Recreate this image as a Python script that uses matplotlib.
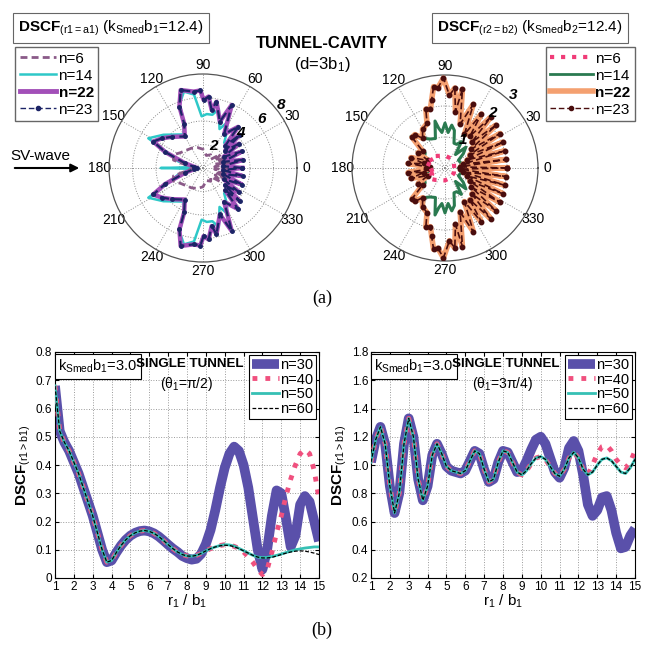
import numpy as np
import matplotlib
matplotlib.use("Agg")
import matplotlib.pyplot as plt
from matplotlib.lines import Line2D

plt.rcParams['font.family'] = ['Liberation Sans', 'DejaVu Sans']
plt.rcParams['mathtext.fontset'] = 'custom'
plt.rcParams['mathtext.rm'] = 'Liberation Sans'
plt.rcParams['mathtext.bf'] = 'Liberation Sans:bold'
plt.rcParams['mathtext.it'] = 'Liberation Sans:italic'
plt.rcParams['mathtext.default'] = 'regular'

# ---------------- polar (a) left: tunnel ----------------
L_TH_22 = [0, 5.5, 11.5, 17, 23, 28.5, 34, 38, 42, 45, 49.5, 58, 65.5, 70, 78.5, 81.5, 85.5, 89.5, 92, 97,
           106, 111, 113, 120, 135, 144, 152, 157, 165, 172, 180,
           188, 195, 203, 208, 216, 225, 240, 247, 249, 254, 263, 268, 270.5, 274.5, 278.5, 281.5, 290, 294.5, 302,
           310.5, 315, 318, 322, 326, 331.5, 337, 343, 348.5, 354.5, 360]
L_N22 = [3.35, 1.7, 3.45, 1.8, 3.6, 2.0, 3.7, 2.4, 4.2, 2.7, 4.6, 3.4, 5.9, 4.2, 5.75, 5.0, 6.1, 5.8, 6.6, 6.55,
         6.9, 5.6, 4.1, 3.1, 3.75, 4.3, 4.8, 3.5, 1.6, 0.8, 0.5,
         0.8, 1.6, 3.5, 4.8, 4.3, 3.75, 3.1, 4.1, 5.6, 6.9, 6.55, 6.6, 5.8, 6.1, 5.0, 5.75, 4.2, 5.9, 3.4,
         4.6, 2.7, 4.2, 2.4, 3.7, 2.0, 3.6, 1.8, 3.45, 1.7, 3.35]
L_N23 = [3.35, 1.7, 3.45, 1.8, 3.6, 2.0, 3.7, 2.4, 4.2, 2.7, 4.6, 3.4, 5.9, 4.2, 5.75, 5.0, 6.1, 5.8, 6.6, 6.55,
         6.9, 5.6, 4.1, 3.1, 3.75, 4.3, 4.8, 3.5, 1.6, 0.8, 0.5,
         0.8, 1.6, 3.5, 4.8, 4.3, 3.75, 3.1, 4.1, 5.6, 6.9, 6.55, 6.6, 5.8, 6.1, 5.0, 5.75, 4.2, 5.9, 3.4,
         4.6, 2.7, 4.2, 2.4, 3.7, 2.0, 3.6, 1.8, 3.45, 1.7, 3.35]
L_TH_14 = [0, 5.5, 11.5, 17, 23, 28.5, 34, 38, 44, 50, 56, 62, 67, 75, 80, 86, 91.5, 97, 104, 110,
           113, 120, 140, 151.5, 156, 165, 176, 180,
           184, 195, 204, 208.5, 220, 240, 247, 250, 256, 263, 268.5, 274, 280, 285, 293, 298, 304, 310, 316, 322,
           326, 331.5, 337, 343, 348.5, 354.5, 360]
L_N14 = [3.3, 1.7, 3.4, 1.8, 3.5, 2.0, 3.6, 2.3, 3.4, 2.8, 3.6, 4.4, 3.6, 5.2, 4.6, 4.6, 4.4, 6.3, 6.7, 5.8,
         4.1, 3.3, 4.4, 5.3, 3.4, 2.2, 1.0, 3.6,
         1.0, 2.2, 3.4, 5.3, 4.4, 3.3, 4.1, 5.8, 6.7, 6.3, 4.4, 4.6, 4.6, 5.2, 3.6, 4.4, 3.6, 2.8, 3.4, 2.3,
         3.6, 2.0, 3.5, 1.8, 3.4, 1.7, 3.3]
L_TH_6 = [0, 6, 12, 18, 24, 30, 38, 48, 60, 75, 90, 105, 120, 135, 145, 156, 165, 172, 180,
          188, 195, 204, 215, 225, 240, 255, 270, 285, 300, 312, 322, 330, 336, 342, 348, 354, 360]
L_N6 = [2.1, 1.0, 2.2, 1.1, 2.2, 1.2, 1.9, 1.0, 1.3, 1.1, 1.6, 1.8, 1.95, 2.1, 2.3, 2.75, 2.6, 1.2, 0.4,
        1.2, 2.6, 2.75, 2.3, 2.1, 1.95, 1.8, 1.6, 1.1, 1.3, 1.0, 1.9, 1.2, 2.2, 1.1, 2.2, 1.0, 2.1]

# ---------------- polar (a) right: cavity ----------------
R_TH_22 = [0, 4, 8, 12, 16, 20, 24, 28, 32, 36, 40, 44, 48, 52, 56, 60, 66, 71, 77.5, 79.5,
           83, 86.5, 91, 95, 98, 101, 104, 108, 112, 120, 127, 132, 137, 143, 150, 156, 163, 168, 173, 177, 180,
           183, 187, 192, 197, 204, 210, 217, 223, 228, 233, 240, 248, 252, 256, 259, 262, 265, 269, 273.5, 277,
           280.5, 282.5, 289, 294, 300, 304, 308, 312, 316, 320, 324, 328, 332, 336, 340, 344, 348, 352, 356, 360]
R_N22 = [2.0, 0.5, 2.0, 0.6, 2.0, 0.75, 2.05, 0.9, 2.1, 1.05, 2.15, 1.2, 2.2, 1.3, 2.1, 1.25, 2.25, 1.5, 2.6, 1.85,
         2.6, 2.35, 2.9, 2.6, 2.65, 2.25, 1.95, 2.0, 1.55, 1.45, 1.2, 1.45, 1.45, 0.9, 1.0, 0.6, 1.15, 0.7, 1.2, 0.5, 0.6,
         0.5, 1.2, 0.7, 1.15, 0.6, 1.0, 0.9, 1.45, 1.45, 1.2, 1.45, 1.55, 2.0, 1.95, 2.25, 2.65, 2.6, 2.9, 2.35, 2.6,
         1.85, 2.6, 1.5, 2.25, 1.25, 2.1, 1.3, 2.2, 1.2, 2.15, 1.05, 2.1, 0.9, 2.05, 0.75, 2.0, 0.6, 2.0, 0.5, 2.0]
R_N23 = [2.0, 0.5, 2.0, 0.6, 2.0, 0.75, 2.05, 0.9, 2.1, 1.05, 2.15, 1.2, 2.2, 1.3, 2.1, 1.25, 2.25, 1.5, 2.6, 1.85,
         2.6, 2.35, 2.9, 2.6, 2.65, 2.25, 1.95, 2.0, 1.55, 1.45, 1.2, 1.45, 1.45, 0.9, 1.0, 0.6, 1.15, 0.7, 1.2, 0.5, 0.6,
         0.5, 1.2, 0.7, 1.15, 0.6, 1.0, 0.9, 1.45, 1.45, 1.2, 1.45, 1.55, 2.0, 1.95, 2.25, 2.65, 2.6, 2.9, 2.35, 2.6,
         1.85, 2.6, 1.5, 2.25, 1.25, 2.1, 1.3, 2.2, 1.2, 2.15, 1.05, 2.1, 0.9, 2.05, 0.75, 2.0, 0.6, 2.0, 0.5, 2.0]
R_TH_14 = [0, 15, 30, 38, 45, 52, 58, 64, 70, 76, 81, 85, 90, 95, 99, 102, 108, 117, 127, 137, 143, 152, 162, 172, 180,
           188, 198, 208, 217, 223, 233, 243, 252, 258, 261, 265, 270, 275, 279, 284, 290, 296, 302, 308, 315, 322,
           330, 345, 360]
R_N14 = [0.45, 0.55, 0.5, 0.75, 0.95, 0.55, 1.0, 0.85, 0.85, 1.25, 1.4, 1.15, 1.45, 1.15, 1.3, 1.55, 1.0, 1.05, 1.2,
         1.5, 0.8, 0.75, 0.6, 0.55, 0.5,
         0.55, 0.6, 0.75, 0.8, 1.5, 1.2, 1.05, 1.0, 1.55, 1.3, 1.15, 1.45, 1.15, 1.4, 1.25, 0.85, 0.85, 1.0, 0.55,
         0.95, 0.75, 0.5, 0.55, 0.45]
R_TH_6 = [0, 30, 60, 90, 110, 130, 145, 155, 165, 175, 185, 195, 205, 215, 230, 250, 270, 300, 330, 360]
R_N6 = [0.3, 0.33, 0.36, 0.4, 0.42, 0.5, 0.6, 0.45, 0.62, 0.35, 0.35, 0.62, 0.45, 0.6, 0.5, 0.42, 0.4, 0.36, 0.33, 0.3]

ANGLE_LABELS = ['0', '30', '60', '90', '120', '150', '180', '210', '240', '270', '300', '330']

# ---------------- (b) single tunnel ----------------
X_R = np.linspace(1, 15, 57)
BL_N30 = [0.68, 0.52, 0.48, 0.45, 0.41, 0.37, 0.32, 0.27, 0.22, 0.16, 0.10, 0.056, 0.062, 0.09, 0.115, 0.135,
          0.15, 0.16, 0.166, 0.168, 0.165, 0.158, 0.147, 0.133, 0.118, 0.104, 0.092,
          0.078, 0.07, 0.065, 0.068, 0.085, 0.12, 0.17, 0.24, 0.32, 0.39, 0.44, 0.465, 0.45, 0.4, 0.32, 0.21,
          0.1, 0.03, 0.1, 0.22, 0.31, 0.3, 0.21, 0.11, 0.15, 0.26, 0.29, 0.27, 0.2, 0.13]
BL_N40 = [0.68, 0.52, 0.48, 0.45, 0.41, 0.37, 0.32, 0.27, 0.22, 0.16, 0.10, 0.056, 0.062, 0.09, 0.115, 0.135,
          0.15, 0.16, 0.166, 0.168, 0.165, 0.158, 0.147, 0.133, 0.118, 0.104, 0.092, 0.083, 0.078, 0.077, 0.08,
          0.087, 0.096, 0.104, 0.11, 0.115, 0.118, 0.117,
          0.112, 0.105, 0.092, 0.075, 0.055, 0.03, 0.012, 0.03, 0.09, 0.16, 0.22, 0.29, 0.35, 0.40, 0.44, 0.455,
          0.44, 0.38, 0.28]
BL_N50 = [0.68, 0.52, 0.48, 0.45, 0.41, 0.37, 0.32, 0.27, 0.22, 0.16, 0.10, 0.056, 0.062, 0.09, 0.115, 0.135,
          0.15, 0.16, 0.166, 0.168, 0.165, 0.158, 0.147, 0.133, 0.118, 0.104, 0.092, 0.083, 0.078, 0.077, 0.08,
          0.087, 0.096, 0.104, 0.11, 0.115, 0.118, 0.117, 0.113, 0.105, 0.097, 0.088, 0.08, 0.074,
          0.072, 0.073, 0.076, 0.08, 0.085, 0.09, 0.095, 0.1, 0.103, 0.106, 0.108, 0.11, 0.11]
BL_N60 = [0.68, 0.52, 0.48, 0.45, 0.41, 0.37, 0.32, 0.27, 0.22, 0.16, 0.10, 0.056, 0.062, 0.09, 0.115, 0.135,
          0.15, 0.16, 0.166, 0.168, 0.165, 0.158, 0.147, 0.133, 0.118, 0.104, 0.092, 0.083, 0.078, 0.077, 0.08,
          0.087, 0.096, 0.104, 0.11, 0.114, 0.116, 0.115, 0.111, 0.104, 0.096, 0.088, 0.08, 0.074, 0.071, 0.071,
          0.073, 0.078, 0.083, 0.088, 0.092, 0.095, 0.096, 0.095, 0.092, 0.088, 0.083]

BR_N30 = [1.02, 1.18, 1.27, 1.15, 0.85, 0.66, 0.80, 1.15, 1.33, 1.20, 0.90, 0.75, 0.85, 1.07, 1.15, 1.08, 0.99,
          0.96, 0.95, 0.94, 0.96, 1.03, 1.10, 1.08, 0.97, 0.88, 0.90, 1.02, 1.10, 1.09, 1.02, 0.95,
          0.96, 1.03, 1.11, 1.18, 1.2, 1.15, 1.05, 0.95, 0.91, 0.98, 1.12, 1.17, 1.1, 0.93, 0.72, 0.64, 0.68,
          0.77, 0.78, 0.68, 0.52, 0.41, 0.42, 0.5, 0.55]
BR_N40 = [1.02, 1.18, 1.27, 1.15, 0.85, 0.66, 0.80, 1.15, 1.33, 1.20, 0.90, 0.75, 0.85, 1.07, 1.15, 1.08, 0.99,
          0.96, 0.95, 0.94, 0.96, 1.03, 1.10, 1.08, 0.97, 0.88, 0.90, 1.02, 1.10, 1.09, 1.02, 0.95, 0.93, 0.96,
          1.01, 1.05, 1.06, 1.04, 0.99, 0.94, 0.92, 0.97, 1.05, 1.09, 1.05, 0.97, 0.93,
          1.0, 1.08, 1.13, 1.14, 1.10, 1.04, 1.0, 0.98, 1.02, 1.1]
BR_N50 = [1.02, 1.18, 1.27, 1.15, 0.85, 0.66, 0.80, 1.15, 1.33, 1.20, 0.90, 0.75, 0.85, 1.07, 1.15, 1.08, 0.99,
          0.96, 0.95, 0.94, 0.96, 1.03, 1.10, 1.08, 0.97, 0.88, 0.90, 1.02, 1.10, 1.09, 1.02, 0.95, 0.93, 0.96,
          1.01, 1.05, 1.06, 1.04, 0.99, 0.94, 0.92, 0.97, 1.05, 1.09, 1.05, 0.97, 0.93, 0.95, 1.00, 1.04, 1.05,
          1.03, 0.99, 0.95, 0.94, 0.98, 1.04]
BR_N60 = [1.02, 1.18, 1.27, 1.15, 0.85, 0.66, 0.80, 1.15, 1.33, 1.20, 0.90, 0.75, 0.85, 1.07, 1.15, 1.08, 0.99,
          0.96, 0.95, 0.94, 0.96, 1.03, 1.10, 1.08, 0.97, 0.88, 0.90, 1.02, 1.10, 1.09, 1.02, 0.95, 0.93, 0.96,
          1.01, 1.05, 1.06, 1.04, 0.99, 0.94, 0.92, 0.97, 1.05, 1.09, 1.05, 0.97, 0.93, 0.95, 1.00, 1.04, 1.05,
          1.03, 0.99, 0.95, 0.94, 0.98, 1.04]

X_TICKS = list(range(1, 16))
BL_YTICKS = [0, 0.1, 0.2, 0.3, 0.4, 0.5, 0.6, 0.7, 0.8]
BR_YTICKS = [0.2, 0.4, 0.6, 0.8, 1.0, 1.2, 1.4, 1.6, 1.8]

W = 646
fig = plt.figure(figsize=(6.46, 6.46), dpi=100)


def fx(px):
    return px / W


def fy(py):
    return 1 - py / W


def setup_polar(ax, rmax, rings):
    ax.set_ylim(0, rmax)
    ax.set_yticks(rings)
    ax.set_yticklabels([])
    ax.set_xticks(np.deg2rad(np.arange(0, 360, 30)))
    ax.set_xticklabels(ANGLE_LABELS, fontsize=10)
    ax.tick_params(axis='x', pad=-4)
    ax.grid(True, linestyle=':', color='#8a8a8a', linewidth=0.7)
    ax.spines['polar'].set_color('#555555')
    ax.spines['polar'].set_linewidth(0.9)


# left polar
axL = fig.add_axes([fx(109), fy(262), fx(188), fx(188)], projection='polar')
setup_polar(axL, 8, [2, 4, 6])
axL.plot(np.deg2rad(L_TH_14), L_N14, color='#2ec8c8', lw=1.8, zorder=3)
axL.plot(np.deg2rad(L_TH_22), L_N22, color='#a24fb8', lw=3.2, zorder=4)
axL.plot(np.deg2rad(L_TH_6), L_N6, color='#8a5a88', lw=2.0, ls=(0, (2.5, 1.5)), zorder=5)
axL.plot(np.deg2rad(L_TH_22), L_N23, color='#1c2466', lw=1.6, ls=(0, (4, 2)), marker='.', ms=5, zorder=6)
for lab, ang, rr in [('2', 64, 2.1), ('4', 43, 4.4), ('6', 40, 6.55), ('8', 39, 8.5)]:
    axL.text(np.deg2rad(ang), rr, lab, fontsize=11, fontweight='bold', fontstyle='italic',
             ha='center', va='center', zorder=10)

# right polar
axR = fig.add_axes([fx(352), fy(261), fx(186), fx(186)], projection='polar')
setup_polar(axR, 3, [1, 2])
axR.plot(np.deg2rad(R_TH_14), R_N14, color='#2a7a50', lw=2.2, zorder=3)
axR.plot(np.deg2rad(R_TH_22), R_N22, color='#f4a070', lw=4.0, zorder=4)
axR.plot(np.deg2rad(R_TH_22), R_N23, color='#4a0e0e', lw=1.2, ls=(0, (4, 2)), marker='o', ms=3.2, zorder=5)
axR.plot(np.deg2rad(R_TH_6), R_N6, color='#f03c78', lw=3.0, ls=':', zorder=6)
for lab, ang, rr in [('1', 57, 1.06), ('2', 49, 2.35), ('3', 47, 3.23)]:
    axR.text(np.deg2rad(ang), rr, lab, fontsize=11, fontweight='bold', fontstyle='italic',
             ha='center', va='center', zorder=10)

# titles / boxes (a)
fig.text(fx(18), fy(28), r'$\mathbf{DSCF}_{(r1=a1)}$ (k$_{Smed}$b$_1$=12.4)', fontsize=11, ha='left', va='center',
         bbox=dict(boxstyle='square,pad=0.35', fc='white', ec='#666666', lw=0.8))
fig.text(fx(437), fy(28), r'$\mathbf{DSCF}_{(r2=b2)}$ (k$_{Smed}$b$_2$=12.4)', fontsize=11, ha='left', va='center',
         bbox=dict(boxstyle='square,pad=0.35', fc='white', ec='#666666', lw=0.8))
fig.text(0.4985, fy(43), 'TUNNEL-CAVITY', fontsize=12, fontweight='bold', ha='center', va='center')
fig.text(0.4985, fy(64), r'(d=3b$_1$)', fontsize=12, ha='center', va='center')
fig.text(fx(10), fy(156), 'SV-wave', fontsize=11, ha='left', va='center')
fig.add_artist(matplotlib.patches.FancyArrowPatch((fx(12), fy(168)), (fx(82), fy(168)),
                                                  transform=fig.transFigure, arrowstyle='-|>',
                                                  mutation_scale=12, color='black', lw=1.5))
fig.text(0.4985, fy(298), '(a)', fontsize=13, family='Liberation Serif', ha='center', va='center')
fig.text(0.4985, fy(630), '(b)', fontsize=13, family='Liberation Serif', ha='center', va='center')

hL = [Line2D([], [], color='#8a5a88', lw=2.0, ls=(0, (2.5, 1.5))),
      Line2D([], [], color='#2ec8c8', lw=1.8),
      Line2D([], [], color='#a24fb8', lw=3.5),
      Line2D([], [], color='#1c2466', lw=1.0, ls=(0, (4, 2)), marker='.', ms=6)]
legL = fig.legend(hL, ['n=6', 'n=14', 'n=22', 'n=23'], loc='upper left', bbox_to_anchor=(fx(15), fy(47)),
                  fontsize=11, handlelength=2.4, handletextpad=0.15, labelspacing=0.2, borderpad=0.3,
                  borderaxespad=0, fancybox=False, edgecolor='#666666', numpoints=1, framealpha=1)
legL.get_texts()[2].set_fontweight('bold')
hR = [Line2D([], [], color='#f03c78', lw=3.0, ls=':'),
      Line2D([], [], color='#2a7a50', lw=2.0),
      Line2D([], [], color='#f4a070', lw=4.0),
      Line2D([], [], color='#4a0e0e', lw=1.0, ls=(0, (4, 2)), marker='o', ms=3)]
legR = fig.legend(hR, ['n=6', 'n=14', 'n=22', 'n=23'], loc='upper right', bbox_to_anchor=(fx(635), fy(47)),
                  fontsize=11, handlelength=2.8, handletextpad=0.15, labelspacing=0.2, borderpad=0.3,
                  borderaxespad=0, fancybox=False, edgecolor='#666666', numpoints=1, framealpha=1)
legR.get_texts()[2].set_fontweight('bold')


# (b) cartesian panels
def cart_panel(rect, yt, ylim, s30, s40, s50, s60, theta_txt):
    ax = fig.add_axes(rect)
    ax.plot(X_R, s30, color='#5a50aa', lw=7, solid_capstyle='butt', label='n=30', zorder=2)
    ax.plot(X_R, s40, color='#f0507e', lw=3.5, ls=':', label='n=40', zorder=3)
    ax.plot(X_R, s50, color='#36c0b4', lw=2.0, label='n=50', zorder=4)
    ax.plot(X_R, s60, color='black', lw=0.9, ls=(0, (3, 1.5)), label='n=60', zorder=5)
    ax.set_xlim(1, 15)
    ax.set_ylim(*ylim)
    ax.set_xticks(X_TICKS)
    ax.set_yticks(yt)
    ax.set_yticklabels(['%g' % v if v != 1.0 or ylim[1] < 1 else '1.0' for v in yt])
    ax.tick_params(direction='in', labelsize=8.5, length=3, top=True, right=True, pad=2)
    ax.grid(True, linestyle=':', color='#9a9a9a', lw=0.7)
    ax.set_xlabel(r'r$_1$ / b$_1$', fontsize=11, labelpad=0)
    ax.set_ylabel(r'$\mathbf{DSCF}_{(r1>b1)}$', fontsize=11, labelpad=2)
    leg = ax.legend(loc='upper right', fontsize=10.5, handlelength=1.85, handletextpad=0.1, labelspacing=0.05,
                    borderpad=0.2, borderaxespad=0.2, fancybox=False, edgecolor='black', framealpha=1)
    leg.get_frame().set_linewidth(0.8)
    ax.text(0.012, 0.975, r'k$_{Smed}$b$_1$=3.0', transform=ax.transAxes, fontsize=10.5, ha='left', va='top',
            bbox=dict(boxstyle='square,pad=0.25', fc='white', ec='black', lw=0.8))
    ax.text(0.51, 0.945, 'SINGLE TUNNEL', transform=ax.transAxes, fontsize=9.6, fontweight='bold',
            ha='center', va='center')
    ax.text(0.50, 0.86, theta_txt, transform=ax.transAxes, fontsize=10, ha='center', va='center')
    for s in ax.spines.values():
        s.set_linewidth(0.8)
    return ax


cart_panel([fx(55), fy(578), fx(264), fx(226)], BL_YTICKS, (0, 0.8), BL_N30, BL_N40, BL_N50, BL_N60,
           r'($\theta_1$=$\pi$/2)')
cart_panel([fx(371), fy(578), fx(264), fx(226)], BR_YTICKS, (0.2, 1.8), BR_N30, BR_N40, BR_N50, BR_N60,
           r'($\theta_1$=3$\pi$/4)')

fig.savefig('out.png', dpi=100)
